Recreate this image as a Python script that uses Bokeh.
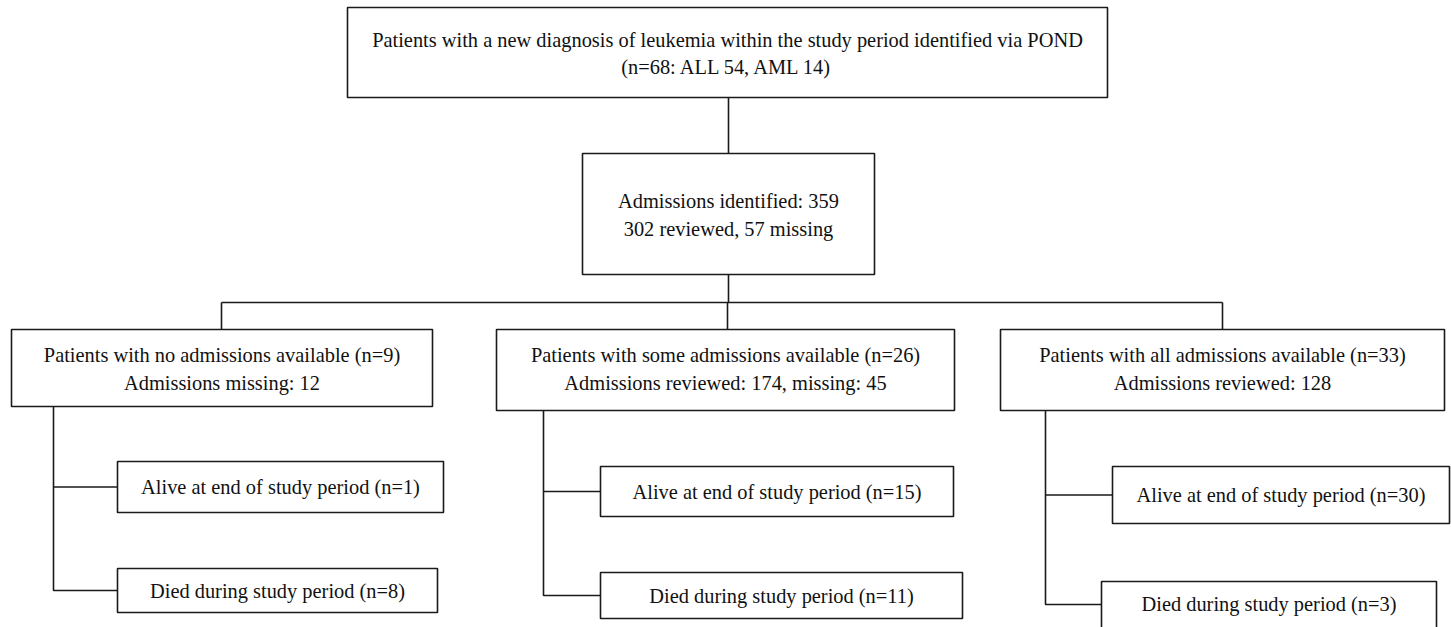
from bokeh.plotting import figure
from bokeh.models import Range1d
from bokeh.core.properties import value
from bokeh.embed import file_html
from bokeh.resources import INLINE

# ---- data ----
total_n = 68
all_n = 54
aml_n = 14
admissions_identified = 359
admissions_reviewed = 302
admissions_missing = 57
group_names = ["no", "some", "all"]
group_n = [9, 26, 33]
group_reviewed = [None, 174, 128]
group_missing = [12, 45, None]
alive_n = [1, 15, 30]
died_n = [8, 11, 3]

# ---- layout (page pixel coordinates) ----
W, H = 1451, 627
OFF = 0
FONT = "Liberation Serif"
FS = "20.4px"
LC = "#1a1a1a"
LW = 1.6

p = figure(width=W, height=H, output_backend="svg", toolbar_location=None,
           x_range=Range1d(OFF, OFF + W), y_range=Range1d(OFF + H, OFF),
           min_border=0, outline_line_color=None)
p.axis.visible = False
p.grid.visible = False
p.background_fill_color = "white"
p.border_fill_color = "white"

boxes = []
texts = []

def box(l, r, t, b, lines, ys, xc=None):
    boxes.append((l, r, t, b))
    xc = (l + r) / 2 if xc is None else xc
    for s, y in zip(lines, ys):
        texts.append((xc, y, s))

# top
box(347, 1107, 7, 97,
    ["Patients with a new diagnosis of leukemia within the study period identified via POND",
     f"(n={total_n}: ALL {all_n}, AML {aml_n})"], [39, 66])
# admissions
box(582, 874, 153, 274,
    [f"Admissions identified: {admissions_identified}",
     f"{admissions_reviewed} reviewed, {admissions_missing} missing"], [200, 228])

g_boxes = [(11, 432), (496, 954), (1000, 1444)]
g_vx = [53, 543, 1045]
alive_boxes = [(117, 443, 461, 512), (600, 953, 466, 516), (1112, 1449, 466, 523)]
died_boxes = [(117, 437, 568, 612), (600, 962, 572, 618), (1101, 1436, 581, 640)]
g_bottom = [406, 410, 410]
g_drop = [221, 727, 1222]

for i in range(3):
    l, r = g_boxes[i]
    if group_names[i] == "no":
        l2 = f"Admissions missing: {group_missing[i]}"
    elif group_missing[i] is None:
        l2 = f"Admissions reviewed: {group_reviewed[i]}"
    else:
        l2 = f"Admissions reviewed: {group_reviewed[i]}, missing: {group_missing[i]}"
    box(l, r, 329, g_bottom[i],
        [f"Patients with {group_names[i]} admissions available (n={group_n[i]})", l2],
        [354, 382])
    al, ar, at, ab = alive_boxes[i]
    box(al, ar, at, ab, [f"Alive at end of study period (n={alive_n[i]})"], [(at + ab) / 2])
    dl, dr, dt, db = died_boxes[i]
    dy = (dt + db) / 2 if db < 626 else 603
    box(dl, dr, dt, db, [f"Died during study period (n={died_n[i]})"], [dy])

# connectors
xs, ys = [], []
xs.append([728, 728]); ys.append([97, 153])
xs.append([728, 728]); ys.append([274, 302])
xs.append([221, 1222]); ys.append([302, 302])
for i in range(3):
    xs.append([g_drop[i], g_drop[i]]); ys.append([302, 329])
    al, ar, at, ab = alive_boxes[i]
    dl, dr, dt, db = died_boxes[i]
    ay = (at + ab) / 2
    dy = (dt + db) / 2 if db < 626 else 604
    xs.append([g_vx[i], g_vx[i], dl]); ys.append([g_bottom[i], dy, dy])
    xs.append([g_vx[i], al]); ys.append([ay, ay])

p.multi_line(xs, ys, line_color=LC, line_width=LW)

p.quad(left=[b[0] for b in boxes], right=[b[1] for b in boxes],
       top=[b[2] for b in boxes], bottom=[b[3] for b in boxes],
       fill_color="white", line_color=LC, line_width=LW)

p.text(x=[t[0] for t in texts], y=[t[1] for t in texts], text=[t[2] for t in texts],
       text_align="center", text_baseline="middle",
       text_font=value(FONT), text_font_size=FS, text_color="#111111")

open("out.html", "w").write(file_html(p, INLINE))
